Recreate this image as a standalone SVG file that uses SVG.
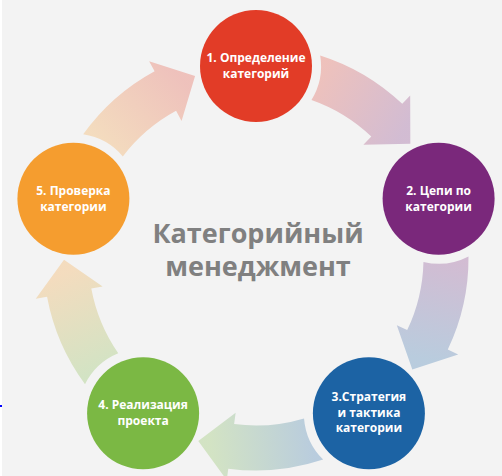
<svg xmlns="http://www.w3.org/2000/svg" xmlns:xlink="http://www.w3.org/1999/xlink" width="502" height="476" viewBox="0 0 502 476">
  <style>
    .node-label { font-family: "Open Sans", "Liberation Sans", sans-serif; font-weight: 700; font-size: 12px; fill: #ffffff; text-anchor: middle; }
    .title { font-family: "Open Sans", "Liberation Sans", sans-serif; font-weight: 700; font-size: 27px; fill: #808080; text-anchor: middle; }
  </style>
  <defs>
    <path id="arrow" d="M320.18,55.42 A212.5,212.5 0 0 1 402.27,103.86 L410.19,95.52 L410.34,143.79 L363.38,144.84 L371.30,136.50 A167.5,167.5 0 0 0 311.45,99.95 A65,65 0 0 0 320.18,55.42 Z"/>
    <linearGradient id="g12" gradientUnits="userSpaceOnUse" x1="316" y1="78" x2="405" y2="128">
      <stop offset="0" stop-color="#e23c27" stop-opacity="0.27"/>
      <stop offset="1" stop-color="#7a287b" stop-opacity="0.27"/>
    </linearGradient>
    <linearGradient id="g23" gradientUnits="userSpaceOnUse" x1="316" y1="78" x2="405" y2="128">
      <stop offset="0" stop-color="#7a287b" stop-opacity="0.27"/>
      <stop offset="1" stop-color="#1c63a4" stop-opacity="0.27"/>
    </linearGradient>
    <linearGradient id="g34" gradientUnits="userSpaceOnUse" x1="316" y1="78" x2="405" y2="128">
      <stop offset="0" stop-color="#1c63a4" stop-opacity="0.27"/>
      <stop offset="1" stop-color="#7bb844" stop-opacity="0.27"/>
    </linearGradient>
    <linearGradient id="g45" gradientUnits="userSpaceOnUse" x1="316" y1="78" x2="405" y2="128">
      <stop offset="0" stop-color="#7bb844" stop-opacity="0.27"/>
      <stop offset="1" stop-color="#f59d2f" stop-opacity="0.27"/>
    </linearGradient>
    <linearGradient id="g51" gradientUnits="userSpaceOnUse" x1="316" y1="78" x2="405" y2="128">
      <stop offset="0" stop-color="#f59d2f" stop-opacity="0.27"/>
      <stop offset="1" stop-color="#e23c27" stop-opacity="0.27"/>
    </linearGradient>
  </defs>

  <rect x="0" y="0" width="502" height="476" fill="#f3f3f3"/>
  <rect x="0" y="0" width="2" height="476" fill="#ffffff"/>
  <rect x="0" y="405" width="2" height="2" fill="#0000ff"/>

  <g id="connectors">
    <use xlink:href="#arrow" href="#arrow" fill="url(#g12)"/>
    <use xlink:href="#arrow" href="#arrow" fill="url(#g23)" transform="rotate(72 256 258)"/>
    <use xlink:href="#arrow" href="#arrow" fill="url(#g34)" transform="rotate(144 256 258)"/>
    <use xlink:href="#arrow" href="#arrow" fill="url(#g45)" transform="rotate(216 256 258)"/>
    <use xlink:href="#arrow" href="#arrow" fill="url(#g51)" transform="rotate(288 256 258)"/>
  </g>

  <g id="node1">
    <circle cx="256" cy="66" r="56" fill="#e23c27"/>
    <text class="node-label" x="256" y="62">1. Определение</text>
    <text class="node-label" x="256" y="78">категорий</text>
  </g>
  <g id="node2">
    <circle cx="438.6" cy="198.7" r="56" fill="#7a287b"/>
    <text class="node-label" x="438.6" y="194.7">2. Цепи по</text>
    <text class="node-label" x="438.6" y="210.7">категории</text>
  </g>
  <g id="node3">
    <circle cx="368.9" cy="413.3" r="56" fill="#1c63a4"/>
    <text class="node-label" x="368.9" y="401.3">3.Стратегия</text>
    <text class="node-label" x="368.9" y="416.8">и тактика</text>
    <text class="node-label" x="368.9" y="432.3">категории</text>
  </g>
  <g id="node4">
    <circle cx="143.1" cy="413.3" r="56" fill="#7bb844"/>
    <text class="node-label" x="143.1" y="409.3">4. Реализация</text>
    <text class="node-label" x="143.1" y="425.3">проекта</text>
  </g>
  <g id="node5">
    <circle cx="73.4" cy="198.7" r="56" fill="#f59d2f"/>
    <text class="node-label" x="73.4" y="194.7">5. Проверка</text>
    <text class="node-label" x="73.4" y="210.7">категории</text>
  </g>

  <g id="title">
    <text class="title" x="258" y="243">Категорийный</text>
    <text class="title" x="258" y="276">менеджмент</text>
  </g>
</svg>
